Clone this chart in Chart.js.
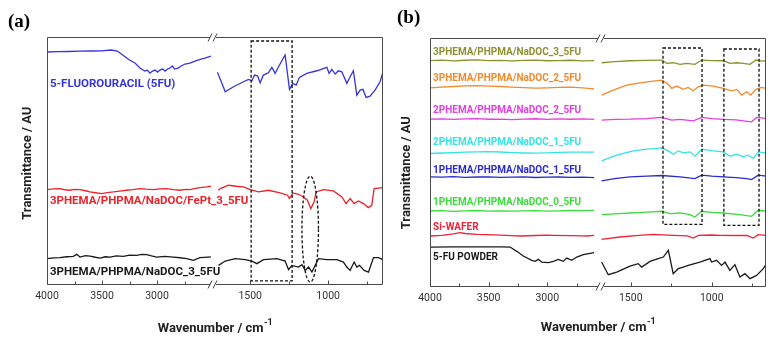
<!DOCTYPE html>
<html><head><meta charset="utf-8">
<script src="https://cdn.jsdelivr.net/npm/chart.js@4.4.1/dist/chart.umd.min.js"></script>
<style>
html,body{margin:0;padding:0;background:#fff;}
#wrap{position:relative;width:777px;height:343px;overflow:hidden;background:#fff;}
canvas{position:absolute;top:0;}
#ca{left:0;} #cb{left:390px;}
</style></head><body>
<div id="wrap"><canvas id="ca" width="390" height="343"></canvas><canvas id="cb" width="387" height="343"></canvas></div>
<script>
// ---------- Panel (a) data ----------
const A_ticksLeft = [4000, 3750, 3500, 3250, 3000, 2750];
const A_ticksRight = [1500, 1250, 1000, 750];
const A_tickLabels = [4000, 3500, 3000, 1500, 1000];

const A_5FU_wn = [4000,3900,3800,3700,3600,3500,3420,3360,3300,3250,3200,3155,3110,3090,3064,3040,3018,2995,2973,2950,2927,2905,2882,2860,2840,2809,2780,2745,2700,2655,2600,2564,2510,
  1710,1660,1607,1543,1511,1489,1472,1453,1436,1415,1383,1361,1340,1312,1276,1248,1226,1205,1184,1137,1072,1008,994,976,955,934,912,880,859,838,816,795,777,756,731,699,667,650];
const A_5FU_T = [233,233.3,233.5,233.8,234,234.2,235,234,229,225,222,217,214,215,212,214,215,213,215,216,214,216,217,219,216,217,219,221,222,224,226,227,229,
  212.7,193.3,198.3,203.3,205.7,204.3,210,209.3,202.3,210,212.3,217.7,211.7,220,230,195.7,201.7,200,207.7,211.7,214.3,217.7,211.7,215.7,211,214.3,213.3,201.7,208.3,214.3,190,195,195.7,187.7,189,195,203.3,212];

const A_FePt_wn = [4000,3940,3882,3840,3791,3750,3700,3650,3609,3560,3503,3450,3397,3340,3275,3220,3155,3100,3034,2980,2912,2850,2791,2740,2700,2650,2609,2548,2510,
  1705,1692,1639,1590,1543,1500,1447,1383,1308,1261,1248,1226,1190,1158,1133,1111,1090,1077,1030,966,912,885,859,833,806,774,742,720,705,650];
const A_FePt_T = [95.7,96.3,96.7,95.5,95,95.8,95.7,94.5,93.3,92.5,91.7,92.6,93.3,94.2,95,95.6,96.7,96.1,95.7,96.4,96.7,95.6,95,95.9,95.7,96.8,97.7,98.3,99,
  95,96.7,100,99,98.3,95.7,93.3,95,92.3,90,86.7,92.3,91,88.3,85,76.7,83.3,93.3,95.7,94.3,88.3,81.7,86.7,81.7,84.3,81.7,77.7,80,96.7,97.7];

const A_NaDOC_wn = [4000,3940,3882,3820,3761,3730,3700,3650,3609,3560,3518,3470,3427,3370,3306,3250,3185,3140,3094,3050,3003,2930,2852,2790,2730,2670,2609,2534,2510,
  1703,1660,1596,1532,1489,1457,1415,1370,1329,1276,1254,1233,1190,1168,1147,1126,1104,1083,1062,1008,944,902,880,859,833,816,799,769,741,709,677,650];
const A_NaDOC_T = [26.7,27.5,27.7,28.6,29,31,28.3,29.8,29.3,28.1,27.3,28.6,28.3,29.5,29,30.2,30,30.9,30.7,29.4,28.3,28.9,28.3,27.6,26.7,25,27.7,28.3,28.5,
  20,24.3,26.7,25.7,24.3,21.7,25.7,26.3,26.7,24.3,15.7,20,18.3,20.7,15,18.3,13.3,20,26.7,25.7,25.7,23.3,18.3,15,23.3,18.3,20,15,13.3,27.7,27.7,25.7];

// ---------- Panel (b) data ----------
const B_ticksLeft = [4000, 3750, 3500, 3250, 3000, 2750];
const B_ticksRight = [1500, 1250, 1000, 750];
const B_tickLabels = [4000, 3500, 3000, 1500, 1000];
const B_leftWn = [4000,3900,3800,3700,3600,3500,3400,3300,3200,3100,3000,2900,2800,2700,2600];

const B_olive_wn = B_leftWn.concat([1680,1600,1505,1400,1309,1278,1238,1196,1155,1104,1062,1000,929,888,846,805,764,727,690,665]);
const B_olive_T = [226.5,226.9,226.2,226.8,227.1,226.4,226.7,226.1,226.6,226.9,226.3,226.5,226.8,226.2,226.4,
  224.3,225.5,226.3,226.7,227,223.7,224.3,222.7,223.7,222.7,227,226.5,226.3,223.7,224.3,223.7,222.7,227,226,226.3];

const B_orange_wn = B_leftWn.concat([1680,1608,1525,1443,1361,1309,1275,1247,1217,1176,1145,1114,1083,1052,990,929,877,846,815,784,760,727,692,665]);
const B_orange_T = [199.3,200,200.6,201.2,201.5,201,200.6,200,199.4,199,199.3,199.7,199.9,199.2,198.3,
  192,197,202,204.3,206,207,203.7,198.7,201,197.7,199.7,196.3,200.3,202,201,198.7,196.3,197.7,192,195.3,192,197.7,199.7,198.7];

const B_magenta_wn = B_leftWn.concat([1680,1600,1505,1400,1309,1247,1196,1114,1062,1000,929,850,805,754,723,665]);
const B_magenta_T = [168,168.3,167.7,168.2,168.5,167.9,168.1,167.6,168,168.4,167.8,168.2,167.9,168.3,167.8,
  167,167.8,168,168.6,169.7,167,167.7,166.3,169.7,168.5,167.7,167.2,166.3,165.3,169.7,168.7];

const B_cyan_wn = B_leftWn.concat([1680,1587,1484,1400,1309,1268,1238,1207,1176,1134,1104,1062,1000,929,888,846,805,775,744,713,665]);
const B_cyan_T = [133.7,134.2,134.6,135,135.3,135.5,135.2,134.6,134.2,134,134.4,134.8,135,135.1,135,
  126.3,132,136.3,138,139.3,136.3,133,136.3,134.3,135.3,131,138,136.5,135.3,131,133,130.3,132,128.7,135.3,134.3];

const B_blue_wn = B_leftWn.concat([1680,1600,1505,1400,1309,1196,1104,1062,1000,929,850,784,754,713,665]);
const B_blue_T = [110.3,110,110.5,109.8,110.2,110.4,109.9,110.1,110.3,109.7,110,110.2,109.9,110.1,109.5,
  106.3,108.5,110.3,111,111.7,110.3,108.7,112,111,110.3,109.5,108.7,107.7,112,111];

const B_green_wn = B_leftWn.concat([1680,1600,1505,1400,1309,1258,1196,1134,1104,1062,1000,929,826,754,713,665]);
const B_green_T = [76.3,76.6,76,76.4,76.8,76.2,76.5,76.1,76.4,76.7,76.2,76.5,76.8,76.6,77,
  72.7,73.5,74.3,75.2,76,73.7,74.3,72.7,70.3,76,75,74.3,72.7,71,77,76];

const B_si_wn = [4000,3900,3800,3744,3700,3600,3516,3400,3300,3232,3100,3000,2948,2800,2700,2663,2600,
  1680,1567,1450,1361,1238,1150,1114,1083,1000,949,850,784,744,713,665];
const B_si_T = [51.3,52,53.5,54.7,53.8,53,52.7,52.2,51.6,51.3,51.8,52.2,52,51.6,51.4,51.3,52,
  48,50.3,52,53,52,51.5,49.3,52,52.3,52,51.8,52,49.3,52.7,52];

const B_5FU_wn = [4000,3800,3600,3400,3317,3260,3204,3132,3104,3076,3047,2991,2948,2905,2863,2834,2791,2748,2692,2600,
  1680,1639,1587,1505,1454,1433,1381,1330,1299,1268,1238,1207,1176,1145,1073,1011,1001,970,939,918,888,857,826,795,764,723,682,665];
const B_5FU_T = [40.3,40.4,40.4,40.5,40.3,36,31.3,27,26,28,25.3,24.7,26,28,26,29.3,27,30.3,32.7,34.7,
  25.3,12.7,15.3,21.3,23.7,20.3,26,28.7,30.3,37,13.7,18.7,20.3,22,25.3,28.7,25.3,27,22,25.3,17,22.7,10.3,13.7,8.7,12,18.7,22.7];

// ---------- helpers ----------
function splitSeries(wn, T, leftMin, rightMax) {
  const L = [], R = [];
  wn.forEach((w, i) => {
    if (w >= leftMin) L.push({x: w, y: T[i]});
    else if (w <= rightMax) R.push({x: w, y: T[i]});
  });
  return [L, R];
}

function buildChart(canvasId, P) {
  const datasets = [];
  P.series.forEach(s => {
    const [L, R] = splitSeries(s.wn, s.T, P.leftRange[0], P.rightRange[1]);
    const base = {borderColor: s.color, borderWidth: 1.3, pointRadius: 0, fill: false, tension: 0, yAxisID: 'y'};
    datasets.push(Object.assign({data: L, xAxisID: 'xL'}, base));
    datasets.push(Object.assign({data: R, xAxisID: 'xR'}, base));
  });
  const tickFont = {family: 'Roboto, "Liberation Sans", sans-serif', size: 10.5};
  const xAxis = (range, ticks, weight) => ({
    type: 'linear', position: 'bottom', stack: 'x', stackWeight: weight,
    min: range[0], max: range[1], reverse: true,
    grid: {display: false, drawTicks: false}, border: {display: false},
    afterBuildTicks: sc => { sc.ticks = ticks.map(v => ({value: v})); },
    ticks: {autoSkip: false, maxRotation: 0, padding: 5, color: '#333', font: tickFont,
      callback: v => P.tickLabels.includes(v) ? String(v) : ''}
  });
  const plugin = {
    id: 'decor_' + canvasId,
    afterDraw(chart) {
      const ctx = chart.ctx, ca = chart.chartArea;
      const xL = chart.scales.xL, xR = chart.scales.xR, y = chart.scales.y;
      const bx = Math.round(xL.right);
      const Lp = Math.round(ca.left) + 0.5, Rp = Math.round(ca.right) - 0.5;
      const Tp = Math.round(ca.top) + 0.5, Bp = Math.round(ca.bottom) - 0.5;
      ctx.save();
      ctx.strokeStyle = '#4a4a4a'; ctx.lineWidth = 1;
      ctx.beginPath();
      ctx.moveTo(Lp, Tp); ctx.lineTo(Lp, Bp);
      ctx.moveTo(Rp, Tp); ctx.lineTo(Rp, Bp);
      ctx.moveTo(Lp, Tp); ctx.lineTo(bx - 2, Tp);
      ctx.moveTo(bx + 4, Tp); ctx.lineTo(Rp, Tp);
      ctx.moveTo(Lp, Bp); ctx.lineTo(bx - 2, Bp);
      ctx.moveTo(bx + 4, Bp); ctx.lineTo(Rp, Bp);
      ctx.stroke();
      [Tp, Bp].forEach(yy => {
        ctx.beginPath();
        ctx.moveTo(bx - 4, yy + 4); ctx.lineTo(bx, yy - 4);
        ctx.moveTo(bx + 1, yy + 4); ctx.lineTo(bx + 5, yy - 4);
        ctx.stroke();
      });
      [xL, xR].forEach(sc => sc.ticks.forEach(t => {
        const px = Math.round(sc.getPixelForValue(t.value)) + 0.5;
        const major = P.tickLabels.includes(t.value);
        ctx.beginPath(); ctx.moveTo(px, Bp); ctx.lineTo(px, Bp - (major ? 4 : 3)); ctx.stroke();
      }));
      // dashed highlight regions
      ctx.strokeStyle = '#111'; ctx.lineWidth = 1.3; ctx.setLineDash([3, 2]);
      P.boxes.forEach(b => {
        const x1 = xR.getPixelForValue(b.wn[0]), x2 = xR.getPixelForValue(b.wn[1]);
        const y1 = y.getPixelForValue(b.T[0]), y2 = y.getPixelForValue(b.T[1]);
        ctx.strokeRect(x1, y1, x2 - x1, y2 - y1);
      });
      P.ellipses.forEach(e => {
        const x1 = xR.getPixelForValue(e.wn[0]), x2 = xR.getPixelForValue(e.wn[1]);
        const y1 = y.getPixelForValue(e.T[0]), y2 = y.getPixelForValue(e.T[1]);
        ctx.beginPath();
        ctx.ellipse((x1 + x2) / 2, (y1 + y2) / 2, Math.abs(x2 - x1) / 2, Math.abs(y2 - y1) / 2, 0, 0, Math.PI * 2);
        ctx.stroke();
      });
      ctx.setLineDash([]);
      // series labels
      ctx.textAlign = 'left'; ctx.textBaseline = 'middle';
      ctx.font = 'bold ' + P.labelSize + 'px Roboto, "Liberation Sans", sans-serif';
      P.series.forEach(s => {
        ctx.fillStyle = s.color;
        ctx.fillText(s.label, xL.getPixelForValue(s.labelAt[0]), y.getPixelForValue(s.labelAt[1]));
      });
      // x title with superscript
      ctx.fillStyle = '#222';
      const main = 'Wavenumber / cm', sup = '-1';
      ctx.font = 'bold 13px Roboto, "Liberation Sans", sans-serif';
      const w1 = ctx.measureText(main).width;
      ctx.font = 'bold 9px Roboto, "Liberation Sans", sans-serif';
      const w2 = ctx.measureText(sup).width;
      const cx = (ca.left + ca.right) / 2, ty = ca.bottom + P.xTitleDy;
      let sx = cx - (w1 + w2) / 2;
      ctx.font = 'bold 13px Roboto, "Liberation Sans", sans-serif';
      ctx.fillText(main, sx, ty);
      ctx.font = 'bold 9px Roboto, "Liberation Sans", sans-serif';
      ctx.fillText(sup, sx + w1 + 0.5, ty - 6);
      // y title
      ctx.save();
      ctx.translate(ca.left + P.yTitleDx, (ca.top + ca.bottom) / 2 + P.yTitleDy);
      ctx.rotate(-Math.PI / 2);
      ctx.textAlign = 'center';
      ctx.font = 'bold 13px Roboto, "Liberation Sans", sans-serif';
      ctx.fillText('Transmittance / AU', 0, 0);
      ctx.restore();
      // panel letter
      ctx.textAlign = 'left';
      ctx.fillStyle = '#000';
      ctx.font = 'bold 19px "Liberation Serif", "DejaVu Serif", serif';
      ctx.fillText(P.letter, P.letterPos[0], P.letterPos[1]);
      ctx.restore();
    }
  };
  return new Chart(document.getElementById(canvasId), {
    type: 'line',
    data: {datasets},
    options: {
      responsive: false, animation: false, parsing: false,
      layout: {padding: P.padding},
      plugins: {legend: {display: false}, tooltip: {enabled: false}, title: {display: false}},
      scales: {
        xL: xAxis(P.leftRange, P.ticksLeft, P.weights[0]),
        xR: xAxis(P.rightRange, P.ticksRight, P.weights[1]),
        y: {type: 'linear', display: false, min: P.yRange[0], max: P.yRange[1]}
      }
    },
    plugins: [plugin]
  });
}

buildChart('ca', {
  letter: '(a)', letterPos: [8, 22],
  padding: {left: 47, right: 7, top: 37, bottom: 35},
  leftRange: [2500, 4000], rightRange: [648, 1745], weights: [165, 171], yRange: [0, 248],
  ticksLeft: A_ticksLeft, ticksRight: A_ticksRight, tickLabels: A_tickLabels,
  labelSize: 11.5, xTitleDy: 43, yTitleDx: -19, yTitleDy: 2,
  series: [
    {wn: A_5FU_wn, T: A_5FU_T, color: '#3535d9', label: '5-FLUOROURACIL (5FU)', labelAt: [3973, 201]},
    {wn: A_FePt_wn, T: A_FePt_T, color: '#e8232a', label: '3PHEMA/PHPMA/NaDOC/FePt_3_5FU', labelAt: [3973, 84.3]},
    {wn: A_NaDOC_wn, T: A_NaDOC_T, color: '#1a1a1a', label: '3PHEMA/PHPMA/NaDOC_3_5FU', labelAt: [3973, 13.3]}
  ],
  boxes: [{wn: [1494, 1231], T: [244, 4.5]}],
  ellipses: [{wn: [1168, 1062], T: [109, 3.3]}]
});

buildChart('cb', {
  letter: '(b)', letterPos: [7, 18],
  padding: {left: 40, right: 11, top: 38, bottom: 33},
  leftRange: [2550, 4000], rightRange: [665, 1690], weights: [170, 166], yRange: [0, 249],
  ticksLeft: B_ticksLeft, ticksRight: B_ticksRight, tickLabels: B_tickLabels,
  labelSize: 10, xTitleDy: 40, yTitleDx: -23, yTitleDy: 10,
  series: [
    {wn: B_olive_wn, T: B_olive_T, color: '#8f9130', label: '3PHEMA/PHPMA/NaDOC_3_5FU', labelAt: [3974, 235]},
    {wn: B_orange_wn, T: B_orange_T, color: '#f28a2e', label: '3PHEMA/PHPMA/NaDOC_2_5FU', labelAt: [3974, 208.5]},
    {wn: B_magenta_wn, T: B_magenta_T, color: '#e23ee2', label: '2PHEMA/PHPMA/NaDOC_2_5FU', labelAt: [3974, 176.5]},
    {wn: B_cyan_wn, T: B_cyan_T, color: '#35e3e3', label: '2PHEMA/PHPMA/NaDOC_1_5FU', labelAt: [3974, 144.3]},
    {wn: B_blue_wn, T: B_blue_T, color: '#2a2ad0', label: '1PHEMA/PHPMA/NaDOC_1_5FU', labelAt: [3974, 117]},
    {wn: B_green_wn, T: B_green_T, color: '#3ddc3d', label: '1PHEMA/PHPMA/NaDOC_0_5FU', labelAt: [3974, 84.3]},
    {wn: B_si_wn, T: B_si_T, color: '#ec2438', label: 'Si-WAFER', labelAt: [3974, 59.5]},
    {wn: B_5FU_wn, T: B_5FU_T, color: '#1a1a1a', label: '5-FU POWDER', labelAt: [3974, 30.3]}
  ],
  boxes: [{wn: [1301, 1060], T: [239, 63]}, {wn: [925, 708], T: [238, 62]}],
  ellipses: []
});
</script>
</body></html>
